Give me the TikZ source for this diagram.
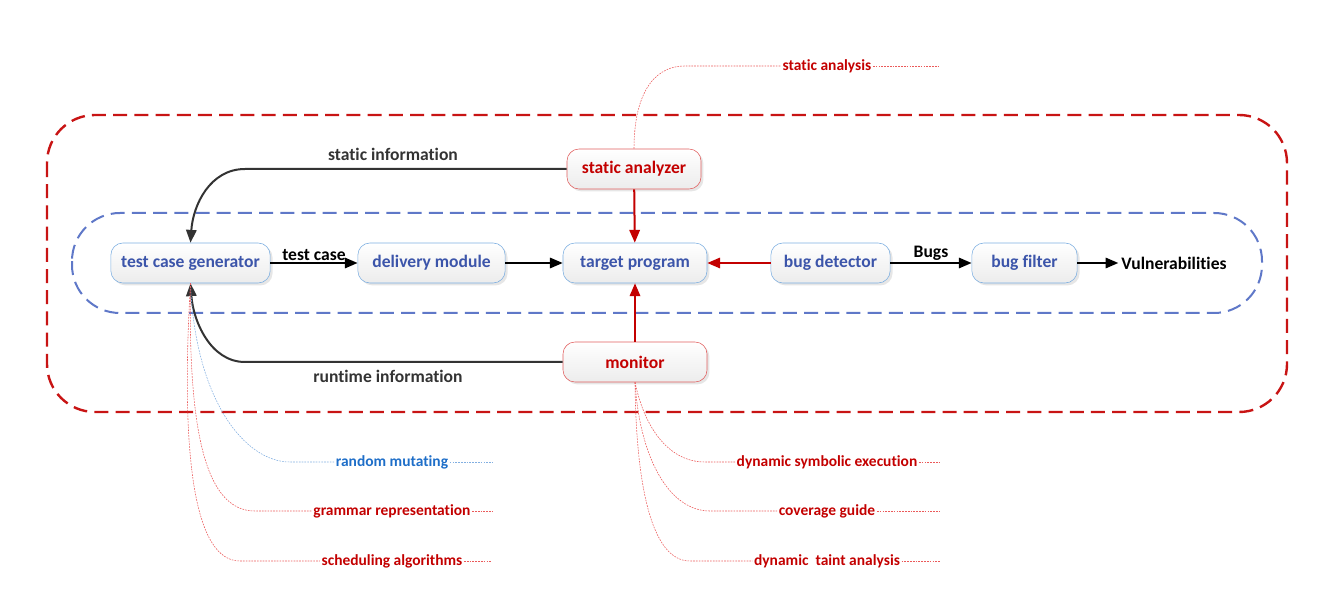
\documentclass[tikz,border=0pt]{standalone}
\usepackage{fontspec}
\setmainfont{Carlito}[Ligatures=NoCommon]
\usetikzlibrary{arrows.meta,shadows}
\definecolor{boxblue}{RGB}{125,175,225}
\definecolor{txtblue}{RGB}{60,85,170}
\definecolor{boxred}{RGB}{225,95,95}
\definecolor{txtred}{RGB}{195,0,0}
\definecolor{dashblue}{RGB}{95,120,200}
\definecolor{dashred}{RGB}{200,20,20}
\definecolor{notered}{RGB}{235,90,90}
\definecolor{noteblue}{RGB}{130,175,225}
\definecolor{labelblue}{RGB}{30,110,200}
\begin{document}
\begin{tikzpicture}[x=0.025cm, y=-0.025cm, >={Triangle[length=3.2mm,width=2.6mm]},
  box/.style={draw=boxblue, text=txtblue, rounded corners=0.3cm, top color=white, bottom color=gray!15,
    minimum height=1cm, font=\fontsize{12.5}{15}\selectfont\bfseries,
    drop shadow={opacity=0.2, shadow xshift=0.6mm, shadow yshift=-0.6mm}},
  redbox/.style={box, draw=boxred, text=txtred},
  lbl/.style={font=\fontsize{12.5}{15}\selectfont\bfseries, inner sep=2pt},
  flow/.style={->, line width=0.5mm},
  note/.style={draw=notered, line width=0.4pt, dash pattern=on 1.2pt off 0.8pt},
  notelbl/.style={text=txtred, font=\fontsize{11}{13}\selectfont\bfseries, inner sep=1pt}]
  \useasboundingbox (0,0) rectangle (1322,589);

  % containers
  \draw[dashred, line width=0.6mm, dash pattern=on 3.5mm off 1.8mm, rounded corners=1.2cm] (47,115) rectangle (1287,412);
  \draw[dashblue, line width=0.5mm, dash pattern=on 3.5mm off 1.8mm, rounded corners=1.2cm] (72,213) rectangle (1262,313);

  % components
  \node[box, minimum width=3.98cm] (tcg) at (190.5,263) {test case generator};
  \node[box, minimum width=3.68cm] (dm) at (431.5,263) {delivery module};
  \node[box, minimum width=3.6cm] (tp) at (635,263) {target program};
  \node[box, minimum width=2.98cm] (bd) at (830.5,263) {bug detector};
  \node[box, minimum width=2.63cm] (bf) at (1024.5,263) {bug filter};
  \node[lbl] (vul) at (1174,263) {Vulnerabilities};
  \node[redbox, minimum width=3.35cm] (sa) at (634,169) {static analyzer};
  \node[redbox, minimum width=3.6cm] (mon) at (635,362) {monitor};

  % flow
  \draw[flow] (tcg) -- node[lbl, above=-1pt] {test case} (dm);
  \draw[flow] (dm) -- (tp);
  \draw[flow, txtred] (bd) -- (tp);
  \draw[flow] (bd) -- node[lbl, above=-1pt] {Bugs} (bf);
  \draw[flow] (bf) -- (vul);
  \draw[flow, txtred] (sa) -- (tp);
  \draw[flow, txtred] (mon) -- (tp);
  \draw[flow, black!80] (sa.west) -- node[lbl, above=3pt, pos=0.54] {static information} (245,169)
    .. controls (210,169) and (193,205) .. (tcg.north);
  \draw[flow, black!80] (mon.west) -- node[lbl, below=3pt, pos=0.55] {runtime information} (245,362)
    .. controls (210,362) and (193,320) .. (tcg.south);

  % techniques
  \node[notelbl] (an) at (827,66) {static analysis};
  \node[notelbl, text=labelblue] (rm) at (392,462) {random mutating};
  \node[notelbl] (gr) at (392,511) {grammar representation};
  \node[notelbl] (sc) at (392,561) {scheduling algorithms};
  \node[notelbl] (dse) at (827,462) {dynamic symbolic execution};
  \node[notelbl] (cg) at (827,511) {coverage guide};
  \node[notelbl] (dta) at (827,561) {dynamic\ \ taint analysis};
  \coordinate (an-e) at (940,66);
  \coordinate (rm-e) at (492,462);
  \coordinate (gr-e) at (492,511);
  \coordinate (sc-e) at (492,561);
  \coordinate (dse-e) at (940,462);
  \coordinate (cg-e) at (940,511);
  \coordinate (dta-e) at (940,561);

  \draw[note] (sa.north) .. controls (634,100) and (650,66) .. (685,66) -- (an.west);
  \draw[note] (an.east) -- (an-e);
  \draw[note, draw=noteblue] (tcg.south) .. controls (195,400) and (245,462) .. (290,462) -- (rm.west);
  \draw[note, draw=noteblue] (rm.east) -- (rm-e);
  \draw[note] (tcg.south) .. controls (188,430) and (205,511) .. (255,511) -- (gr.west);
  \draw[note] (gr.east) -- (gr-e);
  \draw[note] (tcg.south) .. controls (180,460) and (195,561) .. (240,561) -- (sc.west);
  \draw[note] (sc.east) -- (sc-e);
  \draw[note] (mon.south) .. controls (645,430) and (670,462) .. (705,462) -- (dse.west);
  \draw[note] (dse.east) -- (dse-e);
  \draw[note] (mon.south) .. controls (640,460) and (670,511) .. (710,511) -- (cg.west);
  \draw[note] (cg.east) -- (cg-e);
  \draw[note] (mon.south) .. controls (636,480) and (650,561) .. (690,561) -- (dta.west);
  \draw[note] (dta.east) -- (dta-e);
\end{tikzpicture}
\end{document}
